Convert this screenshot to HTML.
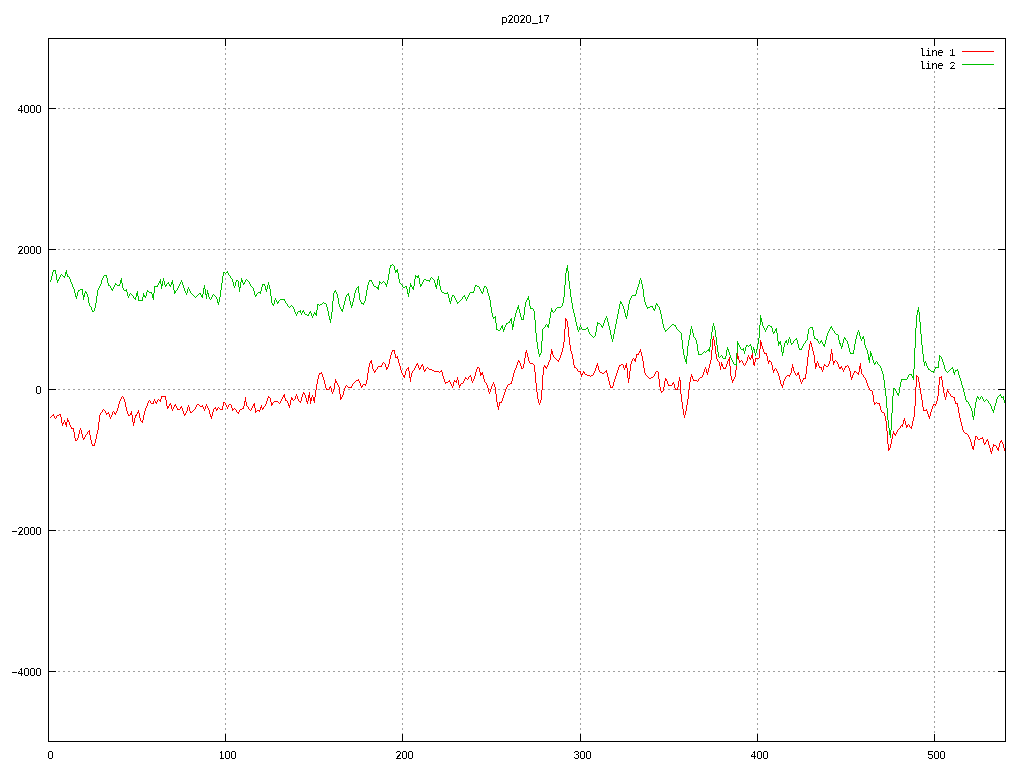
<!DOCTYPE html>
<html lang="en"><head><meta charset="utf-8"><title>p2020_17</title>
<style>html,body{margin:0;padding:0;background:#fff;}body{width:1024px;height:768px;overflow:hidden;}svg{display:block;}.t{font-family:"Liberation Sans",sans-serif;font-size:11px;fill:#000;}.k{font-family:"Liberation Mono","DejaVu Sans Mono",monospace;font-size:10px;fill:#000;}</style></head><body>
<svg width="1024" height="768" viewBox="0 0 1024 768">
<rect x="0" y="0" width="1024" height="768" fill="#ffffff"/>
<defs><filter id="bw" x="0" y="0" width="1024" height="768" filterUnits="userSpaceOnUse" color-interpolation-filters="sRGB"><feComponentTransfer><feFuncA type="discrete" tableValues="0 1"/></feComponentTransfer></filter></defs>
<g stroke="#a0a0a0" stroke-width="1" stroke-dasharray="2 3" shape-rendering="crispEdges" fill="none">
<line x1="58" y1="108.5" x2="998" y2="108.5"/>
<line x1="58" y1="249.5" x2="998" y2="249.5"/>
<line x1="58" y1="389.5" x2="998" y2="389.5"/>
<line x1="58" y1="530.5" x2="998" y2="530.5"/>
<line x1="58" y1="671.5" x2="998" y2="671.5"/>
<line x1="225.5" y1="48" x2="225.5" y2="734"/>
<line x1="402.5" y1="48" x2="402.5" y2="734"/>
<line x1="580.5" y1="48" x2="580.5" y2="734"/>
<line x1="757.5" y1="48" x2="757.5" y2="734"/>
<line x1="934.5" y1="71" x2="934.5" y2="734"/>
</g>
<path d="M50.5 417v1M51.5 416v1M52.5 415v1M53.5 414v2M54.5 416v2M55.5 418v1M56.5 416v2M57.5 415v1M58.5 415v1M59.5 414v1M60.5 414v3M61.5 417v6M62.5 423v3M63.5 422v2M64.5 420v2M65.5 422v3M66.5 422v5M67.5 418v4M68.5 420v2M69.5 422v3M70.5 425v2M71.5 427v2M72.5 428v1M73.5 428v4M74.5 432v6M75.5 438v3M76.5 440v1M77.5 438v2M78.5 434v4M79.5 430v4M80.5 428v2M81.5 430v4M82.5 434v4M83.5 438v2M84.5 437v2M85.5 435v2M86.5 434v1M87.5 432v2M88.5 431v1M89.5 430v5M90.5 435v5M91.5 440v4M92.5 444v2M93.5 445v1M94.5 443v3M95.5 439v4M96.5 434v5M97.5 430v4M98.5 422v8M99.5 415v7M100.5 413v2M101.5 412v1M102.5 410v2M103.5 409v1M104.5 410v1M105.5 411v2M106.5 413v2M107.5 413v1M108.5 412v2M109.5 414v3M110.5 417v2M111.5 415v2M112.5 412v3M113.5 411v1M114.5 412v2M115.5 413v2M116.5 411v2M117.5 408v3M118.5 404v4M119.5 401v3M120.5 399v2M121.5 397v2M122.5 396v1M123.5 397v2M124.5 399v3M125.5 402v5M126.5 407v4M127.5 411v3M128.5 414v2M129.5 415v1M130.5 413v2M131.5 411v4M132.5 415v7M133.5 422v4M134.5 418v5M135.5 415v3M136.5 414v2M137.5 412v2M138.5 410v3M139.5 413v5M140.5 418v3M141.5 421v1M142.5 420v3M143.5 415v5M144.5 411v4M145.5 408v3M146.5 406v2M147.5 403v3M148.5 401v2M149.5 400v1M150.5 401v2M151.5 403v1M152.5 403v1M153.5 401v3M154.5 399v2M155.5 401v2M156.5 402v2M157.5 400v2M158.5 399v1M159.5 400v1M160.5 399v3M161.5 396v3M162.5 396v1M163.5 396v1M164.5 396v1M165.5 396v4M166.5 400v6M167.5 406v3M168.5 406v2M169.5 404v2M170.5 403v2M171.5 405v4M172.5 409v2M173.5 407v2M174.5 405v2M175.5 404v2M176.5 406v2M177.5 408v2M178.5 409v1M179.5 409v1M180.5 407v2M181.5 406v2M182.5 408v3M183.5 411v3M184.5 414v2M185.5 413v2M186.5 411v2M187.5 407v4M188.5 405v2M189.5 407v4M190.5 411v2M191.5 412v1M192.5 411v1M193.5 410v1M194.5 409v1M195.5 407v2M196.5 405v2M197.5 404v1M198.5 404v1M199.5 405v1M200.5 406v1M201.5 406v1M202.5 405v2M203.5 407v2M204.5 409v2M205.5 406v3M206.5 404v2M207.5 406v2M208.5 408v2M209.5 410v4M210.5 414v3M211.5 416v3M212.5 412v4M213.5 409v3M214.5 408v1M215.5 407v2M216.5 409v2M217.5 408v2M218.5 407v1M219.5 408v1M220.5 409v1M221.5 409v1M222.5 406v4M223.5 402v4M224.5 402v1M225.5 403v2M226.5 405v2M227.5 407v2M228.5 405v2M229.5 404v1M230.5 404v1M231.5 405v3M232.5 408v3M233.5 409v1M234.5 408v1M235.5 409v1M236.5 410v2M237.5 412v1M238.5 412v2M239.5 410v2M240.5 409v1M241.5 409v1M242.5 408v1M243.5 406v3M244.5 401v5M245.5 397v5M246.5 402v4M247.5 406v1M248.5 407v2M249.5 409v1M250.5 410v1M251.5 408v2M252.5 406v2M253.5 404v2M254.5 403v5M255.5 408v5M256.5 411v1M257.5 410v1M258.5 410v1M259.5 410v2M260.5 407v3M261.5 405v3M262.5 408v2M263.5 407v2M264.5 406v1M265.5 404v2M266.5 401v3M267.5 398v3M268.5 396v2M269.5 397v1M270.5 398v4M271.5 402v4M272.5 403v2M273.5 402v1M274.5 401v1M275.5 401v1M276.5 401v1M277.5 401v1M278.5 402v1M279.5 403v1M280.5 401v2M281.5 399v2M282.5 397v2M283.5 395v2M284.5 394v4M285.5 398v3M286.5 400v1M287.5 401v2M288.5 403v3M289.5 405v3M290.5 400v5M291.5 397v3M292.5 398v2M293.5 400v1M294.5 399v1M295.5 396v3M296.5 394v2M297.5 396v3M298.5 399v2M299.5 401v1M300.5 401v2M301.5 397v4M302.5 394v3M303.5 392v2M304.5 393v2M305.5 395v3M306.5 398v4M307.5 401v3M308.5 395v6M309.5 392v6M310.5 398v6M311.5 397v4M312.5 395v2M313.5 397v4M314.5 397v6M315.5 390v7M316.5 384v6M317.5 379v5M318.5 375v4M319.5 373v2M320.5 373v1M321.5 372v2M322.5 374v3M323.5 377v3M324.5 380v4M325.5 384v4M326.5 388v2M327.5 389v1M328.5 389v1M329.5 387v2M330.5 386v2M331.5 388v4M332.5 392v2M333.5 389v3M334.5 383v6M335.5 379v4M336.5 381v2M337.5 383v2M338.5 385v2M339.5 387v7M340.5 394v6M341.5 397v2M342.5 395v2M343.5 391v4M344.5 388v3M345.5 386v2M346.5 385v1M347.5 386v1M348.5 387v1M349.5 387v1M350.5 387v1M351.5 386v2M352.5 384v2M353.5 383v1M354.5 382v1M355.5 381v1M356.5 380v1M357.5 380v1M358.5 379v2M359.5 381v2M360.5 383v3M361.5 386v2M362.5 385v2M363.5 384v1M364.5 384v1M365.5 384v2M366.5 380v4M367.5 373v7M368.5 367v6M369.5 363v4M370.5 361v2M371.5 360v4M372.5 364v5M373.5 369v2M374.5 371v2M375.5 370v2M376.5 369v1M377.5 367v2M378.5 366v1M379.5 366v1M380.5 366v1M381.5 365v2M382.5 363v2M383.5 362v1M384.5 363v1M385.5 364v3M386.5 367v3M387.5 367v2M388.5 364v3M389.5 359v5M390.5 355v4M391.5 352v3M392.5 350v2M393.5 350v1M394.5 350v4M395.5 354v4M396.5 357v1M397.5 356v3M398.5 359v4M399.5 363v3M400.5 366v4M401.5 370v3M402.5 373v2M403.5 375v2M404.5 375v3M405.5 371v4M406.5 369v2M407.5 368v1M408.5 367v4M409.5 371v7M410.5 377v5M411.5 373v4M412.5 371v2M413.5 370v1M414.5 368v2M415.5 366v2M416.5 364v2M417.5 363v2M418.5 365v3M419.5 368v2M420.5 367v2M421.5 365v2M422.5 364v2M423.5 366v4M424.5 370v2M425.5 369v2M426.5 368v1M427.5 367v1M428.5 368v1M429.5 369v1M430.5 369v1M431.5 369v1M432.5 370v1M433.5 370v1M434.5 371v1M435.5 371v1M436.5 371v1M437.5 371v1M438.5 371v1M439.5 372v1M440.5 371v1M441.5 370v2M442.5 372v4M443.5 376v3M444.5 379v3M445.5 382v2M446.5 382v1M447.5 382v1M448.5 381v1M449.5 380v2M450.5 382v2M451.5 384v2M452.5 386v2M453.5 382v4M454.5 380v2M455.5 381v1M456.5 380v3M457.5 377v3M458.5 380v5M459.5 385v3M460.5 384v2M461.5 383v1M462.5 383v1M463.5 381v2M464.5 379v2M465.5 377v2M466.5 378v1M467.5 379v1M468.5 377v2M469.5 376v1M470.5 375v2M471.5 377v4M472.5 381v2M473.5 379v2M474.5 376v3M475.5 372v4M476.5 369v3M477.5 367v2M478.5 367v1M479.5 368v4M480.5 372v4M481.5 373v2M482.5 372v3M483.5 375v4M484.5 379v3M485.5 382v1M486.5 383v2M487.5 385v3M488.5 388v4M489.5 392v2M490.5 389v3M491.5 386v3M492.5 384v2M493.5 382v2M494.5 384v3M495.5 387v7M496.5 394v8M497.5 402v5M498.5 406v4M499.5 402v4M500.5 402v1M501.5 401v2M502.5 398v3M503.5 395v3M504.5 392v3M505.5 389v3M506.5 387v2M507.5 385v2M508.5 384v1M509.5 384v1M510.5 383v1M511.5 381v3M512.5 377v4M513.5 373v4M514.5 370v3M515.5 368v2M516.5 365v3M517.5 362v3M518.5 360v2M519.5 361v2M520.5 363v3M521.5 366v3M522.5 368v1M523.5 364v4M524.5 358v6M525.5 352v6M526.5 350v3M527.5 353v4M528.5 357v4M529.5 361v2M530.5 363v1M531.5 363v1M532.5 363v1M533.5 364v1M534.5 365v7M535.5 372v11M536.5 383v9M537.5 392v7M538.5 399v4M539.5 403v2M540.5 400v3M541.5 390v10M542.5 375v15M543.5 367v8M544.5 365v2M545.5 366v2M546.5 367v2M547.5 365v2M548.5 362v3M549.5 360v2M550.5 354v6M551.5 349v5M552.5 351v4M553.5 355v2M554.5 357v1M555.5 358v1M556.5 359v1M557.5 360v1M558.5 360v2M559.5 358v2M560.5 355v3M561.5 352v3M562.5 348v4M563.5 342v6M564.5 329v13M565.5 318v11M566.5 319v2M567.5 321v6M568.5 327v10M569.5 337v8M570.5 345v6M571.5 351v3M572.5 354v5M573.5 359v6M574.5 365v3M575.5 367v1M576.5 368v1M577.5 369v2M578.5 371v1M579.5 371v1M580.5 371v3M581.5 374v3M582.5 373v2M583.5 371v2M584.5 372v2M585.5 374v1M586.5 374v1M587.5 375v1M588.5 375v1M589.5 375v1M590.5 376v1M591.5 375v1M592.5 375v1M593.5 373v2M594.5 371v2M595.5 368v3M596.5 365v3M597.5 363v3M598.5 366v4M599.5 370v2M600.5 372v1M601.5 372v1M602.5 373v1M603.5 373v1M604.5 372v1M605.5 371v1M606.5 370v3M607.5 373v4M608.5 377v4M609.5 381v4M610.5 385v3M611.5 387v1M612.5 386v2M613.5 382v4M614.5 379v3M615.5 376v3M616.5 373v3M617.5 370v3M618.5 367v3M619.5 365v2M620.5 365v1M621.5 364v1M622.5 364v1M623.5 365v3M624.5 368v2M625.5 365v3M626.5 363v5M627.5 368v10M628.5 378v5M629.5 371v8M630.5 364v7M631.5 361v3M632.5 359v2M633.5 358v1M634.5 359v2M635.5 358v4M636.5 354v4M637.5 354v1M638.5 353v2M639.5 351v2M640.5 349v3M641.5 352v4M642.5 356v5M643.5 361v7M644.5 368v5M645.5 373v2M646.5 375v1M647.5 376v1M648.5 377v1M649.5 378v1M650.5 378v1M651.5 377v1M652.5 377v1M653.5 376v1M654.5 374v2M655.5 372v2M656.5 371v1M657.5 371v1M658.5 372v7M659.5 379v8M660.5 387v4M661.5 391v2M662.5 391v1M663.5 387v4M664.5 381v6M665.5 378v3M666.5 379v2M667.5 381v3M668.5 384v2M669.5 385v1M670.5 385v1M671.5 385v1M672.5 383v2M673.5 382v2M674.5 384v4M675.5 388v2M676.5 389v1M677.5 387v3M678.5 381v6M679.5 377v4M680.5 380v14M681.5 394v8M682.5 402v7M683.5 409v6M684.5 415v3M685.5 411v4M686.5 405v6M687.5 399v6M688.5 390v9M689.5 382v8M690.5 377v5M691.5 374v3M692.5 376v3M693.5 379v2M694.5 380v1M695.5 380v1M696.5 380v1M697.5 381v1M698.5 379v2M699.5 378v1M700.5 377v1M701.5 377v1M702.5 375v2M703.5 372v3M704.5 369v3M705.5 367v2M706.5 369v4M707.5 372v3M708.5 368v4M709.5 364v4M710.5 360v4M711.5 350v10M712.5 339v11M713.5 336v4M714.5 340v6M715.5 346v8M716.5 354v5M717.5 359v2M718.5 361v1M719.5 362v4M720.5 366v4M721.5 362v4M722.5 364v3M723.5 367v2M724.5 368v1M725.5 367v2M726.5 364v3M727.5 361v3M728.5 359v2M729.5 357v9M730.5 366v10M731.5 376v4M732.5 380v3M733.5 379v2M734.5 377v2M735.5 370v7M736.5 359v11M737.5 353v6M738.5 356v4M739.5 360v3M740.5 361v1M741.5 360v1M742.5 361v2M743.5 363v2M744.5 365v1M745.5 363v2M746.5 361v2M747.5 357v4M748.5 355v2M749.5 357v2M750.5 358v2M751.5 355v3M752.5 353v6M753.5 359v6M754.5 362v4M755.5 358v4M756.5 358v1M757.5 358v1M758.5 358v1M759.5 349v9M760.5 340v9M761.5 342v4M762.5 346v3M763.5 349v3M764.5 352v2M765.5 353v1M766.5 353v3M767.5 356v5M768.5 361v3M769.5 360v2M770.5 361v1M771.5 362v3M772.5 365v5M773.5 370v3M774.5 369v2M775.5 368v1M776.5 369v2M777.5 371v2M778.5 373v3M779.5 376v4M780.5 380v4M781.5 384v2M782.5 385v3M783.5 381v4M784.5 379v2M785.5 377v2M786.5 376v1M787.5 375v1M788.5 375v1M789.5 375v2M790.5 373v2M791.5 368v5M792.5 364v4M793.5 367v4M794.5 371v2M795.5 373v2M796.5 375v1M797.5 373v2M798.5 372v3M799.5 375v4M800.5 379v3M801.5 382v2M802.5 380v2M803.5 378v2M804.5 378v1M805.5 374v5M806.5 366v8M807.5 357v9M808.5 350v7M809.5 344v6M810.5 341v3M811.5 343v4M812.5 347v4M813.5 351v4M814.5 355v8M815.5 363v6M816.5 363v4M817.5 361v2M818.5 363v3M819.5 366v2M820.5 367v1M821.5 367v3M822.5 370v2M823.5 366v4M824.5 364v2M825.5 365v1M826.5 366v1M827.5 366v1M828.5 364v2M829.5 361v3M830.5 354v7M831.5 349v5M832.5 353v8M833.5 361v4M834.5 361v2M835.5 360v1M836.5 361v1M837.5 362v2M838.5 364v3M839.5 367v2M840.5 367v2M841.5 366v2M842.5 368v2M843.5 370v2M844.5 368v2M845.5 366v2M846.5 366v1M847.5 365v1M848.5 366v2M849.5 368v3M850.5 371v6M851.5 377v3M852.5 375v3M853.5 373v2M854.5 371v2M855.5 371v1M856.5 372v1M857.5 373v1M858.5 372v3M859.5 366v6M860.5 363v6M861.5 369v5M862.5 374v1M863.5 375v2M864.5 377v1M865.5 378v2M866.5 380v3M867.5 383v3M868.5 386v2M869.5 388v2M870.5 390v1M871.5 390v1M872.5 391v4M873.5 395v7M874.5 402v3M875.5 403v1M876.5 402v1M877.5 403v1M878.5 403v1M879.5 403v3M880.5 406v4M881.5 410v2M882.5 412v1M883.5 412v1M884.5 413v3M885.5 416v5M886.5 421v10M887.5 431v13M888.5 444v7M889.5 448v2M890.5 444v4M891.5 439v5M892.5 434v5M893.5 431v3M894.5 433v2M895.5 434v2M896.5 432v2M897.5 430v2M898.5 429v1M899.5 428v1M900.5 426v2M901.5 425v1M902.5 424v3M903.5 420v4M904.5 418v3M905.5 421v4M906.5 425v3M907.5 425v2M908.5 424v1M909.5 425v2M910.5 427v1M911.5 426v3M912.5 421v5M913.5 417v4M914.5 406v11M915.5 387v19M916.5 375v12M917.5 376v1M918.5 377v5M919.5 382v6M920.5 388v6M921.5 394v6M922.5 400v7M923.5 407v4M924.5 410v1M925.5 410v1M926.5 409v2M927.5 411v3M928.5 414v3M929.5 416v3M930.5 412v4M931.5 409v3M932.5 406v3M933.5 404v2M934.5 404v1M935.5 404v2M936.5 401v3M937.5 396v5M938.5 385v11M939.5 377v8M940.5 377v1M941.5 376v4M942.5 380v7M943.5 387v6M944.5 393v4M945.5 397v3M946.5 392v5M947.5 389v3M948.5 391v2M949.5 393v1M950.5 394v2M951.5 396v1M952.5 396v1M953.5 397v1M954.5 397v4M955.5 401v3M956.5 403v1M957.5 403v4M958.5 407v6M959.5 413v5M960.5 418v4M961.5 422v4M962.5 426v4M963.5 430v2M964.5 432v1M965.5 433v1M966.5 433v1M967.5 434v1M968.5 435v2M969.5 437v2M970.5 439v3M971.5 442v4M972.5 446v3M973.5 446v4M974.5 440v6M975.5 436v4M976.5 436v1M977.5 437v2M978.5 439v1M979.5 439v1M980.5 438v1M981.5 438v1M982.5 437v2M983.5 439v4M984.5 443v2M985.5 442v2M986.5 440v2M987.5 439v2M988.5 441v4M989.5 445v3M990.5 448v4M991.5 451v3M992.5 447v4M993.5 444v3M994.5 445v1M995.5 445v1M996.5 446v2M997.5 448v2M998.5 447v4M999.5 443v4M1000.5 441v2M1001.5 440v2M1002.5 442v2M1003.5 444v4M1004.5 448v3" fill="none" stroke="#ff0000" stroke-width="1" shape-rendering="crispEdges"/>
<path d="M50.5 280v2M51.5 276v4M52.5 272v4M53.5 270v2M54.5 270v1M55.5 270v4M56.5 274v6M57.5 280v3M58.5 279v2M59.5 277v2M60.5 275v2M61.5 274v1M62.5 275v1M63.5 276v1M64.5 276v2M65.5 272v4M66.5 270v4M67.5 274v3M68.5 276v1M69.5 277v2M70.5 279v3M71.5 282v2M72.5 284v3M73.5 287v2M74.5 289v4M75.5 293v4M76.5 296v3M77.5 292v4M78.5 290v2M79.5 290v1M80.5 289v1M81.5 289v1M82.5 289v6M83.5 295v5M84.5 293v4M85.5 291v2M86.5 292v2M87.5 294v3M88.5 297v6M89.5 303v3M90.5 306v1M91.5 307v3M92.5 310v2M93.5 311v1M94.5 308v3M95.5 303v5M96.5 296v7M97.5 290v6M98.5 288v2M99.5 286v2M100.5 284v2M101.5 280v4M102.5 278v2M103.5 276v2M104.5 275v1M105.5 275v1M106.5 275v3M107.5 278v5M108.5 283v3M109.5 285v1M110.5 286v2M111.5 288v2M112.5 289v2M113.5 287v2M114.5 285v2M115.5 283v2M116.5 284v1M117.5 285v1M118.5 285v1M119.5 284v2M120.5 280v4M121.5 278v5M122.5 283v5M123.5 288v2M124.5 290v1M125.5 290v1M126.5 289v3M127.5 292v4M128.5 296v2M129.5 294v2M130.5 293v1M131.5 294v1M132.5 295v1M133.5 296v2M134.5 298v1M135.5 297v3M136.5 293v4M137.5 291v5M138.5 296v5M139.5 300v1M140.5 300v1M141.5 300v1M142.5 297v4M143.5 293v4M144.5 295v2M145.5 296v2M146.5 292v4M147.5 290v2M148.5 291v1M149.5 292v1M150.5 292v1M151.5 292v2M152.5 294v4M153.5 293v7M154.5 286v7M155.5 286v1M156.5 286v1M157.5 285v2M158.5 283v2M159.5 281v2M160.5 279v5M161.5 284v5M162.5 281v5M163.5 278v3M164.5 281v4M165.5 285v2M166.5 284v2M167.5 283v1M168.5 282v2M169.5 284v2M170.5 285v2M171.5 282v3M172.5 280v4M173.5 284v6M174.5 290v4M175.5 291v2M176.5 290v1M177.5 288v2M178.5 286v2M179.5 284v2M180.5 282v2M181.5 280v2M182.5 282v3M183.5 285v3M184.5 288v3M185.5 291v2M186.5 293v2M187.5 289v4M188.5 287v2M189.5 289v2M190.5 291v2M191.5 293v1M192.5 294v1M193.5 295v1M194.5 296v1M195.5 297v1M196.5 296v1M197.5 295v1M198.5 294v1M199.5 293v1M200.5 293v2M201.5 295v2M202.5 294v4M203.5 288v6M204.5 285v4M205.5 289v6M206.5 294v5M207.5 290v4M208.5 293v4M209.5 297v2M210.5 299v1M211.5 297v2M212.5 295v2M213.5 294v1M214.5 295v1M215.5 296v1M216.5 297v2M217.5 299v4M218.5 302v3M219.5 297v5M220.5 290v7M221.5 283v7M222.5 276v7M223.5 272v4M224.5 272v1M225.5 273v1M226.5 272v1M227.5 271v2M228.5 273v2M229.5 275v1M230.5 276v2M231.5 278v1M232.5 279v3M233.5 282v4M234.5 286v2M235.5 282v4M236.5 280v2M237.5 280v1M238.5 281v6M239.5 287v5M240.5 282v6M241.5 278v4M242.5 280v3M243.5 283v2M244.5 282v2M245.5 280v2M246.5 279v1M247.5 280v1M248.5 281v1M249.5 282v2M250.5 284v2M251.5 286v1M252.5 287v1M253.5 288v3M254.5 291v4M255.5 295v2M256.5 294v2M257.5 293v1M258.5 292v1M259.5 292v1M260.5 291v3M261.5 287v4M262.5 284v3M263.5 284v1M264.5 284v2M265.5 286v4M266.5 289v3M267.5 285v4M268.5 282v3M269.5 285v4M270.5 289v7M271.5 296v7M272.5 303v2M273.5 304v2M274.5 300v4M275.5 298v2M276.5 300v2M277.5 302v2M278.5 301v2M279.5 300v1M280.5 299v1M281.5 299v1M282.5 299v1M283.5 299v1M284.5 299v2M285.5 301v2M286.5 303v1M287.5 304v2M288.5 306v1M289.5 307v1M290.5 306v1M291.5 305v1M292.5 306v1M293.5 307v2M294.5 309v3M295.5 312v2M296.5 314v2M297.5 312v2M298.5 311v1M299.5 311v1M300.5 310v3M301.5 313v2M302.5 311v2M303.5 310v2M304.5 312v2M305.5 314v1M306.5 314v1M307.5 315v1M308.5 314v2M309.5 312v2M310.5 311v2M311.5 313v3M312.5 316v2M313.5 314v2M314.5 312v2M315.5 313v2M316.5 310v6M317.5 304v6M318.5 304v1M319.5 305v1M320.5 304v1M321.5 304v1M322.5 303v1M323.5 302v1M324.5 303v1M325.5 303v1M326.5 304v3M327.5 307v4M328.5 311v5M329.5 316v4M330.5 319v4M331.5 312v7M332.5 301v11M333.5 293v8M334.5 291v2M335.5 290v2M336.5 292v2M337.5 294v4M338.5 298v6M339.5 304v3M340.5 307v2M341.5 309v2M342.5 309v3M343.5 305v4M344.5 301v4M345.5 297v4M346.5 295v2M347.5 294v1M348.5 293v3M349.5 296v5M350.5 301v4M351.5 305v3M352.5 302v4M353.5 298v4M354.5 293v5M355.5 290v3M356.5 288v2M357.5 287v1M358.5 286v7M359.5 293v7M360.5 300v2M361.5 302v2M362.5 303v1M363.5 303v2M364.5 301v2M365.5 296v5M366.5 290v6M367.5 285v5M368.5 282v3M369.5 280v2M370.5 280v1M371.5 280v2M372.5 282v2M373.5 284v2M374.5 286v1M375.5 286v1M376.5 287v1M377.5 287v2M378.5 285v5M379.5 281v4M380.5 282v1M381.5 283v1M382.5 282v1M383.5 281v1M384.5 282v1M385.5 283v2M386.5 284v3M387.5 280v4M388.5 274v6M389.5 268v6M390.5 265v3M391.5 265v1M392.5 264v1M393.5 265v1M394.5 266v4M395.5 270v3M396.5 270v2M397.5 269v4M398.5 273v6M399.5 279v4M400.5 283v1M401.5 284v1M402.5 285v2M403.5 287v1M404.5 287v1M405.5 286v1M406.5 286v3M407.5 289v5M408.5 293v4M409.5 287v6M410.5 283v4M411.5 285v2M412.5 287v2M413.5 286v4M414.5 279v7M415.5 275v4M416.5 276v1M417.5 276v2M418.5 275v3M419.5 278v6M420.5 284v3M421.5 284v2M422.5 282v2M423.5 280v2M424.5 279v1M425.5 279v1M426.5 280v1M427.5 280v1M428.5 280v1M429.5 280v2M430.5 278v2M431.5 277v1M432.5 278v1M433.5 279v1M434.5 280v3M435.5 283v4M436.5 285v4M437.5 279v6M438.5 276v4M439.5 280v6M440.5 286v4M441.5 290v2M442.5 292v1M443.5 292v1M444.5 293v1M445.5 293v1M446.5 293v1M447.5 292v2M448.5 294v4M449.5 298v4M450.5 301v3M451.5 297v4M452.5 295v2M453.5 295v1M454.5 296v2M455.5 298v2M456.5 300v2M457.5 302v2M458.5 302v1M459.5 301v1M460.5 300v1M461.5 299v1M462.5 297v2M463.5 296v1M464.5 295v2M465.5 297v2M466.5 299v2M467.5 297v2M468.5 295v2M469.5 293v2M470.5 292v1M471.5 292v1M472.5 292v1M473.5 291v2M474.5 287v4M475.5 285v2M476.5 285v1M477.5 286v1M478.5 286v1M479.5 287v2M480.5 289v2M481.5 291v2M482.5 292v2M483.5 288v4M484.5 286v2M485.5 286v1M486.5 287v2M487.5 289v4M488.5 293v3M489.5 296v4M490.5 300v7M491.5 307v6M492.5 313v4M493.5 317v2M494.5 317v1M495.5 316v7M496.5 323v7M497.5 329v1M498.5 330v1M499.5 330v1M500.5 328v2M501.5 326v2M502.5 325v4M503.5 329v3M504.5 327v3M505.5 325v2M506.5 323v2M507.5 323v1M508.5 322v1M509.5 321v2M510.5 319v2M511.5 318v6M512.5 324v6M513.5 321v6M514.5 317v4M515.5 313v4M516.5 310v3M517.5 307v3M518.5 305v4M519.5 309v4M520.5 313v4M521.5 317v3M522.5 319v1M523.5 315v5M524.5 307v8M525.5 302v5M526.5 300v2M527.5 298v2M528.5 296v4M529.5 300v6M530.5 306v3M531.5 308v1M532.5 308v1M533.5 309v2M534.5 311v9M535.5 320v13M536.5 333v9M537.5 342v7M538.5 349v5M539.5 354v3M540.5 353v2M541.5 341v12M542.5 329v12M543.5 328v1M544.5 327v1M545.5 325v2M546.5 324v1M547.5 325v2M548.5 324v4M549.5 318v6M550.5 312v6M551.5 308v4M552.5 310v2M553.5 312v1M554.5 311v1M555.5 309v2M556.5 308v1M557.5 307v1M558.5 307v1M559.5 307v1M560.5 307v1M561.5 306v1M562.5 303v3M563.5 297v6M564.5 285v12M565.5 273v12M566.5 268v5M567.5 265v6M568.5 271v10M569.5 281v8M570.5 289v8M571.5 297v6M572.5 303v6M573.5 309v4M574.5 313v4M575.5 317v5M576.5 322v4M577.5 326v4M578.5 330v2M579.5 327v3M580.5 325v2M581.5 327v2M582.5 329v1M583.5 329v1M584.5 329v1M585.5 329v1M586.5 328v1M587.5 327v2M588.5 329v3M589.5 332v2M590.5 334v1M591.5 335v1M592.5 336v1M593.5 337v1M594.5 336v1M595.5 332v4M596.5 326v6M597.5 322v4M598.5 323v1M599.5 323v1M600.5 324v1M601.5 325v2M602.5 326v2M603.5 323v3M604.5 320v3M605.5 318v2M606.5 316v2M607.5 318v4M608.5 322v4M609.5 326v4M610.5 330v5M611.5 335v4M612.5 339v3M613.5 334v5M614.5 329v5M615.5 324v5M616.5 319v5M617.5 314v5M618.5 309v5M619.5 304v5M620.5 301v3M621.5 302v2M622.5 304v2M623.5 306v3M624.5 309v4M625.5 313v4M626.5 316v3M627.5 310v6M628.5 304v6M629.5 300v4M630.5 298v2M631.5 296v2M632.5 295v1M633.5 295v1M634.5 295v1M635.5 294v2M636.5 290v4M637.5 287v3M638.5 284v3M639.5 280v4M640.5 278v2M641.5 280v4M642.5 284v5M643.5 289v8M644.5 297v5M645.5 302v3M646.5 305v2M647.5 307v2M648.5 307v1M649.5 307v1M650.5 306v1M651.5 306v1M652.5 306v2M653.5 308v2M654.5 309v2M655.5 305v4M656.5 303v2M657.5 304v2M658.5 306v1M659.5 307v3M660.5 310v4M661.5 314v5M662.5 319v5M663.5 324v4M664.5 328v2M665.5 330v2M666.5 330v1M667.5 329v1M668.5 328v1M669.5 327v1M670.5 326v1M671.5 325v1M672.5 324v1M673.5 324v1M674.5 325v1M675.5 325v2M676.5 327v2M677.5 329v1M678.5 330v1M679.5 331v1M680.5 332v1M681.5 333v7M682.5 340v9M683.5 349v6M684.5 355v4M685.5 359v3M686.5 356v8M687.5 346v10M688.5 340v6M689.5 335v5M690.5 329v6M691.5 326v3M692.5 329v4M693.5 333v4M694.5 337v1M695.5 338v2M696.5 340v4M697.5 344v7M698.5 351v4M699.5 354v1M700.5 354v1M701.5 354v1M702.5 353v1M703.5 352v1M704.5 351v1M705.5 352v1M706.5 351v1M707.5 350v1M708.5 349v2M709.5 347v5M710.5 339v8M711.5 332v7M712.5 326v6M713.5 323v3M714.5 326v4M715.5 330v7M716.5 337v8M717.5 345v7M718.5 352v5M719.5 357v1M720.5 356v1M721.5 355v1M722.5 356v2M723.5 358v1M724.5 358v1M725.5 356v3M726.5 350v6M727.5 347v3M728.5 349v3M729.5 352v3M730.5 355v3M731.5 358v2M732.5 360v2M733.5 362v2M734.5 364v1M735.5 364v1M736.5 353v13M737.5 341v12M738.5 343v2M739.5 345v2M740.5 347v2M741.5 349v1M742.5 349v1M743.5 348v3M744.5 351v3M745.5 347v4M746.5 345v2M747.5 345v1M748.5 346v1M749.5 345v1M750.5 344v2M751.5 346v4M752.5 350v3M753.5 347v3M754.5 349v4M755.5 353v3M756.5 349v4M757.5 344v5M758.5 338v6M759.5 325v13M760.5 315v10M761.5 318v4M762.5 322v4M763.5 326v2M764.5 328v2M765.5 330v2M766.5 328v2M767.5 326v2M768.5 325v1M769.5 325v1M770.5 326v1M771.5 326v2M772.5 328v4M773.5 332v2M774.5 331v2M775.5 329v2M776.5 328v5M777.5 333v8M778.5 341v5M779.5 342v2M780.5 341v4M781.5 345v7M782.5 352v4M783.5 347v6M784.5 343v4M785.5 341v2M786.5 340v3M787.5 343v2M788.5 339v4M789.5 337v2M790.5 339v4M791.5 343v2M792.5 343v1M793.5 341v2M794.5 340v1M795.5 339v1M796.5 338v2M797.5 340v4M798.5 344v4M799.5 348v2M800.5 349v1M801.5 348v2M802.5 346v2M803.5 344v2M804.5 343v1M805.5 341v2M806.5 340v1M807.5 334v6M808.5 329v5M809.5 328v1M810.5 327v1M811.5 327v1M812.5 327v3M813.5 330v6M814.5 336v3M815.5 338v1M816.5 339v1M817.5 339v2M818.5 341v2M819.5 343v1M820.5 341v2M821.5 340v2M822.5 342v2M823.5 344v2M824.5 344v3M825.5 340v4M826.5 336v4M827.5 333v3M828.5 331v2M829.5 329v2M830.5 327v2M831.5 326v2M832.5 328v2M833.5 330v1M834.5 331v2M835.5 333v1M836.5 334v1M837.5 334v1M838.5 335v5M839.5 340v4M840.5 343v3M841.5 346v3M842.5 343v4M843.5 339v4M844.5 337v2M845.5 338v2M846.5 340v1M847.5 341v3M848.5 344v4M849.5 348v4M850.5 352v2M851.5 353v1M852.5 353v1M853.5 350v4M854.5 344v6M855.5 339v5M856.5 335v4M857.5 332v3M858.5 330v2M859.5 332v4M860.5 336v3M861.5 339v2M862.5 337v2M863.5 336v3M864.5 339v6M865.5 345v3M866.5 348v2M867.5 350v4M868.5 354v6M869.5 357v6M870.5 351v6M871.5 353v3M872.5 356v4M873.5 360v3M874.5 363v2M875.5 362v2M876.5 361v1M877.5 362v2M878.5 364v1M879.5 365v1M880.5 366v2M881.5 368v3M882.5 371v3M883.5 374v6M884.5 380v8M885.5 388v8M886.5 396v12M887.5 408v12M888.5 420v8M889.5 428v7M890.5 430v8M891.5 413v17M892.5 396v17M893.5 388v8M894.5 388v1M895.5 389v2M896.5 391v2M897.5 393v2M898.5 393v3M899.5 387v6M900.5 382v5M901.5 379v3M902.5 379v1M903.5 379v1M904.5 379v1M905.5 379v1M906.5 379v1M907.5 377v2M908.5 375v2M909.5 374v1M910.5 374v1M911.5 374v2M912.5 376v2M913.5 369v11M914.5 348v21M915.5 328v20M916.5 315v13M917.5 310v5M918.5 307v5M919.5 312v10M920.5 322v12M921.5 334v11M922.5 345v9M923.5 354v8M924.5 362v4M925.5 361v2M926.5 363v3M927.5 366v2M928.5 368v2M929.5 369v1M930.5 370v1M931.5 371v1M932.5 371v1M933.5 371v2M934.5 369v2M935.5 367v2M936.5 367v1M937.5 367v1M938.5 361v7M939.5 355v6M940.5 356v1M941.5 357v2M942.5 359v3M943.5 362v3M944.5 365v4M945.5 369v2M946.5 371v1M947.5 372v1M948.5 371v1M949.5 370v1M950.5 369v1M951.5 368v1M952.5 367v2M953.5 369v4M954.5 372v3M955.5 370v2M956.5 370v1M957.5 369v2M958.5 371v4M959.5 375v3M960.5 378v3M961.5 381v4M962.5 385v3M963.5 388v4M964.5 392v4M965.5 396v4M966.5 400v2M967.5 401v1M968.5 402v2M969.5 404v2M970.5 406v2M971.5 408v3M972.5 411v6M973.5 416v4M974.5 408v8M975.5 402v6M976.5 398v4M977.5 396v2M978.5 397v2M979.5 399v1M980.5 397v2M981.5 396v1M982.5 397v2M983.5 399v2M984.5 401v1M985.5 400v1M986.5 399v1M987.5 400v1M988.5 401v2M989.5 403v1M990.5 404v2M991.5 406v3M992.5 409v2M993.5 410v3M994.5 406v4M995.5 403v3M996.5 399v4M997.5 397v2M998.5 396v1M999.5 395v1M1000.5 394v2M1001.5 396v2M1002.5 397v1M1003.5 396v4M1004.5 400v3" fill="none" stroke="#00c000" stroke-width="1" shape-rendering="crispEdges"/>
<g stroke="#000" stroke-width="1" shape-rendering="crispEdges" fill="none">
<rect x="48.5" y="38.5" width="957" height="703"/>
<line x1="48" y1="108.5" x2="56" y2="108.5"/>
<line x1="998" y1="108.5" x2="1006" y2="108.5"/>
<line x1="48" y1="249.5" x2="56" y2="249.5"/>
<line x1="998" y1="249.5" x2="1006" y2="249.5"/>
<line x1="48" y1="389.5" x2="56" y2="389.5"/>
<line x1="998" y1="389.5" x2="1006" y2="389.5"/>
<line x1="48" y1="530.5" x2="56" y2="530.5"/>
<line x1="998" y1="530.5" x2="1006" y2="530.5"/>
<line x1="48" y1="671.5" x2="56" y2="671.5"/>
<line x1="998" y1="671.5" x2="1006" y2="671.5"/>
<line x1="48.5" y1="742" x2="48.5" y2="734"/>
<line x1="48.5" y1="38" x2="48.5" y2="46"/>
<line x1="225.5" y1="742" x2="225.5" y2="734"/>
<line x1="225.5" y1="38" x2="225.5" y2="46"/>
<line x1="402.5" y1="742" x2="402.5" y2="734"/>
<line x1="402.5" y1="38" x2="402.5" y2="46"/>
<line x1="580.5" y1="742" x2="580.5" y2="734"/>
<line x1="580.5" y1="38" x2="580.5" y2="46"/>
<line x1="757.5" y1="742" x2="757.5" y2="734"/>
<line x1="757.5" y1="38" x2="757.5" y2="46"/>
<line x1="934.5" y1="742" x2="934.5" y2="734"/>
<line x1="934.5" y1="38" x2="934.5" y2="46"/>
</g>
<g stroke-width="1" shape-rendering="crispEdges">
<line x1="962" y1="51.5" x2="994" y2="51.5" stroke="#ff0000"/>
<line x1="962" y1="64.5" x2="994" y2="64.5" stroke="#00c000"/>
</g>
<g filter="url(#bw)">
<text class="t" x="501.5 507.5 513.5 519.5 525.5 531.5 537.5 543.5" y="23" dy="0 0 0 0 0 -1 1 0">p2020_17</text>
<text class="t" x="17.5 23.5 29.5 35.5" y="113">4000</text>
<text class="t" x="17.5 23.5 29.5 35.5" y="254">2000</text>
<text class="t" x="35.5" y="394">0</text>
<text class="t" y="535"><tspan x="11.2" dy="-0.7" textLength="7" lengthAdjust="spacingAndGlyphs">-</tspan><tspan x="17.5 23.5 29.5 35.5" dy="0.7">2000</tspan></text>
<text class="t" y="676"><tspan x="11.2" dy="-0.7" textLength="7" lengthAdjust="spacingAndGlyphs">-</tspan><tspan x="17.5 23.5 29.5 35.5" dy="0.7">4000</tspan></text>
<text class="t" x="47.5" y="759">0</text>
<text class="t" x="218.5 224.5 230.5" y="759">100</text>
<text class="t" x="395.5 401.5 407.5" y="759">200</text>
<text class="t" x="573.5 579.5 585.5" y="759">300</text>
<text class="t" x="750.5 756.5 762.5" y="759">400</text>
<text class="t" x="927.5 933.5 939.5" y="759">500</text>
<text class="k" x="955.5" y="56" text-anchor="end">line 1</text>
<text class="k" x="955.5" y="69" text-anchor="end">line 2</text>
</g>
</svg></body></html>
